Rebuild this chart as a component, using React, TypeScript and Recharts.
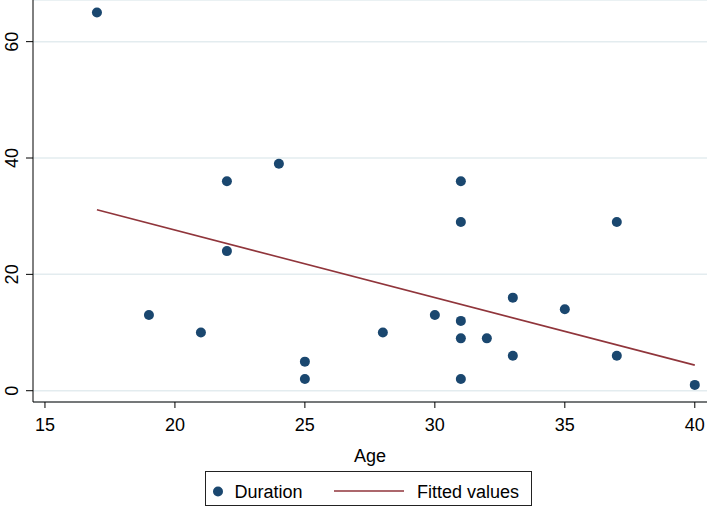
import { ComposedChart, Scatter, Line, XAxis, YAxis, CartesianGrid } from 'recharts';

const ages = [17, 19, 21, 22, 22, 24, 25, 25, 28, 30, 31, 31, 31, 31, 31, 32, 33, 33, 35, 37, 37, 40];
const durations = [65, 13, 10, 36, 24, 39, 5, 2, 10, 13, 36, 29, 12, 9, 2, 9, 16, 6, 14, 29, 6, 1];

// fitted line end points as drawn
const fitAges = [17, 40];
const fitValues = [31.1, 4.4];

const xTicks = [15, 20, 25, 30, 35, 40];
const yTicks = [0, 20, 40, 60];

const scatterData = ages.map((age, i) => ({ age, duration: durations[i] }));
const fitData = fitAges.map((age, i) => ({ age, fit: fitValues[i] }));

const FONT = '"Liberation Sans", Arial, sans-serif';
const NAVY = '#1a476f';
const MAROON = '#90353b';

const XTick = (props: any) => {
  const { x, y, payload } = props;
  return (
    <text x={x} y={y + 23} textAnchor="middle" fontSize={18} fontFamily={FONT} fill="#000">
      {payload.value}
    </text>
  );
};

const YTick = (props: any) => {
  const { x, y, payload } = props;
  const cx = x - 7.5;
  return (
    <text
      x={cx}
      y={y}
      textAnchor="middle"
      fontSize={18}
      fontFamily={FONT}
      fill="#000"
      transform={`rotate(-90, ${cx}, ${y})`}
    >
      {payload.value}
    </text>
  );
};

const Dot = (props: any) => <circle cx={props.cx} cy={props.cy} r={5} fill={NAVY} />;

const App = () => {
  return (
    <div style={{ position: 'absolute', left: 0, top: 0, width: 709, height: 508, background: '#fff' }}>
      <ComposedChart width={709} height={508} margin={{ top: 0, right: 2, left: 0, bottom: 0 }}>
        <CartesianGrid vertical={false} stroke="#e3ecef" strokeWidth={1.5} />
        <XAxis
          type="number"
          dataKey="age"
          domain={[14.54, 40.47]}
          ticks={xTicks}
          height={106}
          tickSize={6}
          tickMargin={0}
          stroke="#000"
          tick={<XTick />}
          label={{ value: 'Age', position: 'insideTop', dy: 42, fontSize: 18, fontFamily: FONT, fill: '#000' }}
        />
        <YAxis
          type="number"
          domain={[-1.94, 67.16]}
          ticks={yTicks}
          width={33}
          tickSize={7}
          tickMargin={0}
          stroke="#000"
          tick={<YTick />}
        />
        <Scatter data={scatterData} dataKey="duration" shape={<Dot />} isAnimationActive={false} />
        <Line
          data={fitData}
          dataKey="fit"
          type="linear"
          stroke={MAROON}
          strokeWidth={1.6}
          dot={false}
          activeDot={false}
          isAnimationActive={false}
        />
      </ComposedChart>
      <div
        style={{
          position: 'absolute',
          left: 205,
          top: 471,
          width: 327,
          height: 35,
          border: '1px solid #222',
          boxSizing: 'border-box',
        }}
      >
        <svg width={327} height={35} style={{ display: 'block' }}>
          <circle cx={12} cy={19.5} r={5} fill={NAVY} />
          <text x={28.5} y={26} fontSize={18} fontFamily={FONT} fill="#000">
            Duration
          </text>
          <line x1={128} x2={198} y1={19} y2={19} stroke={MAROON} strokeWidth={1.6} />
          <text x={211} y={26} fontSize={18} fontFamily={FONT} fill="#000">
            Fitted values
          </text>
        </svg>
      </div>
    </div>
  );
};

export default App;
